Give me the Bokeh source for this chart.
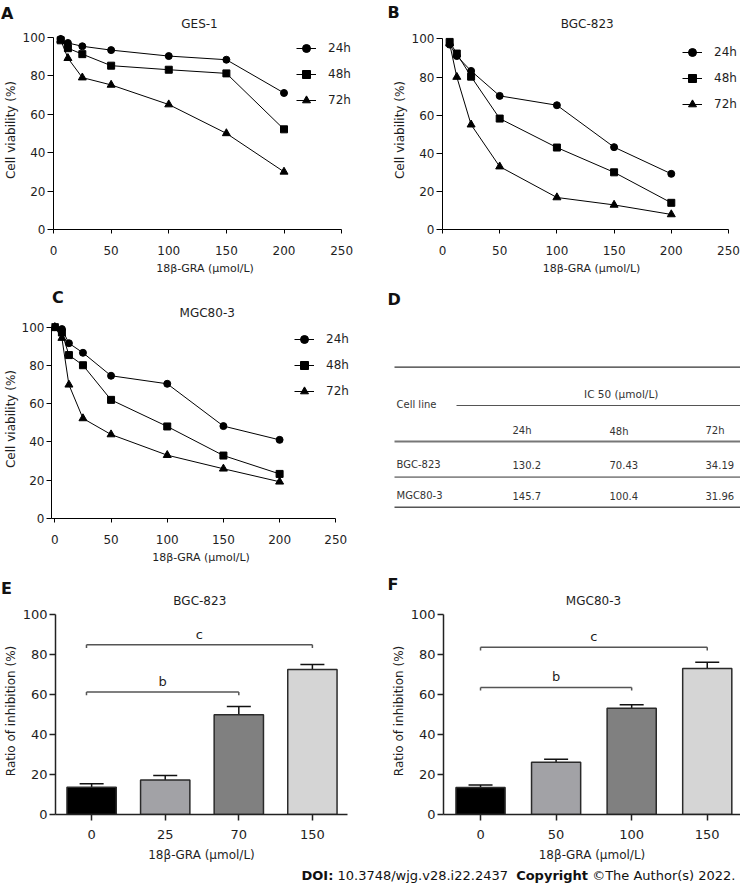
from bokeh.plotting import figure
from bokeh.layouts import column, row
from bokeh.models import (Range1d, FixedTicker, Legend, LegendItem,
                          Whisker, TeeHead, ColumnDataSource)
from bokeh.core.properties import value
from bokeh.embed import file_html
from bokeh.resources import INLINE

FONT = "DejaVu Sans"
TXT = "#1e1e1e"

# ---------------- data ----------------
doses_ab = [6.25, 12.5, 25, 50, 100, 150, 200]
doses_c = [0, 6.25, 12.5, 25, 50, 100, 150, 200]
time_labels = ["24h", "48h", "72h"]
x_ticks_line = [0, 50, 100, 150, 200, 250]
y_ticks = [0, 20, 40, 60, 80, 100]

ges1_24h = [99.1, 97.0, 95.3, 93.3, 90.2, 88.3, 71.0]
ges1_48h = [98.4, 94.3, 91.2, 85.2, 83.1, 81.2, 52.1]
ges1_72h = [98.6, 89.1, 79.0, 75.2, 65.0, 50.0, 30.0]

bgc_24h = [97.0, 91.0, 83.2, 70.1, 65.2, 43.2, 29.2]
bgc_48h = [98.4, 92.3, 80.2, 58.2, 43.0, 30.0, 14.0]
bgc_72h = [97.5, 80.0, 55.0, 33.0, 16.8, 12.9, 7.9]

mgc_24h = [100, 99.0, 91.6, 86.6, 74.6, 70.4, 48.3, 41.1]
mgc_48h = [100, 97.2, 85.4, 80.1, 62.0, 48.1, 32.9, 23.3]
mgc_72h = [100, 94.3, 69.9, 52.3, 43.9, 33.1, 26.0, 19.2]

ic50_cell_lines = ["BGC-823", "MGC80-3"]
ic50_24h = ["130.2", "145.7"]
ic50_48h = ["70.43", "100.4"]
ic50_72h = ["34.19", "31.96"]

bgc_doses = ["0", "25", "70", "150"]
bgc_inhib = [13.7, 17.3, 49.9, 72.6]
bgc_sem = [1.7, 2.2, 4.2, 2.5]
bgc_sig_labels = ["b", "c"]
bgc_sig_from = [0, 0]
bgc_sig_to = [2, 3]
bgc_sig_y = [61.3, 85.0]

mgc_doses = ["0", "50", "100", "150"]
mgc_inhib = [13.5, 26.2, 53.2, 73.1]
mgc_sem = [1.3, 1.5, 1.7, 3.1]
mgc_sig_labels = ["b", "c"]
mgc_sig_from = [0, 0]
mgc_sig_to = [2, 3]
mgc_sig_y = [63.6, 83.7]

panel_titles = ["GES-1", "BGC-823", "MGC80-3", "BGC-823", "MGC80-3"]

bar_colors = ["#000000", "#a2a2a6", "#808080", "#d5d5d5"]
markers = ["circle", "square", "triangle"]
marker_sizes = [7, 7, 8]
xlabel = "18\u03b2-GRA (\u03bcmol/L)"


def pixel_fig(w, h):
    """A figure whose frame is the whole canvas and whose data units are pixels."""
    p = figure(width=w, height=h, output_backend="svg", toolbar_location=None,
               title=None, x_range=Range1d(0, w), y_range=Range1d(h, 0),
               min_border=0, x_axis_location=None, y_axis_location=None)
    p.outline_line_color = None
    p.grid.visible = False
    return p


def put_text(p, x, y, txt, size, bold=False, align="left", color=TXT):
    p.text(x=[x], y=[y], text=[txt], text_font=value(FONT),
           text_font_size=size, text_font_style="bold" if bold else "normal",
           text_color=color, text_align=align, text_baseline="middle")


def style_axis(ax, ticks, tick_fs, tick_out, tick_standoff, label, label_fs,
               label_standoff, lw=1.0, color="black"):
    ax.ticker = FixedTicker(ticks=ticks)
    ax.minor_tick_line_color = None
    ax.major_tick_in = 0
    ax.major_tick_out = tick_out
    ax.major_label_text_font = FONT
    ax.major_label_text_font_size = tick_fs
    ax.major_label_text_color = TXT
    ax.major_label_standoff = tick_standoff
    ax.axis_label = label
    ax.axis_label_text_font = FONT
    ax.axis_label_text_font_size = label_fs
    ax.axis_label_text_font_style = "normal"
    ax.axis_label_text_color = TXT
    ax.axis_label_standoff = label_standoff
    ax.axis_line_color = color
    ax.major_tick_line_color = color
    ax.axis_line_width = lw
    ax.major_tick_line_width = lw


def line_panel(doses, series, width, height, mbl, mbr, mbb, xr, ytop,
               legend_loc, ytick_out=6, ylab_standoff=2):
    p = figure(width=width, height=height, output_backend="svg",
               toolbar_location=None, title=None,
               x_range=Range1d(*xr), y_range=Range1d(0, ytop),
               min_border_left=mbl, min_border_right=mbr,
               min_border_top=0, min_border_bottom=mbb)
    p.outline_line_color = None
    p.grid.visible = False
    style_axis(p.xaxis[0], x_ticks_line, "12px", 4, 12, xlabel, "11px", 4)
    style_axis(p.yaxis[0], y_ticks, "12px", ytick_out, 2, "Cell viability (%)",
               "12px", ylab_standoff)
    p.xaxis[0].bounds = (xr[0], 250)
    p.yaxis[0].bounds = (0, 100)
    items = []
    for lab, ys, mk, sz in zip(time_labels, series, markers, marker_sizes):
        r1 = p.line(doses, ys, line_color="black", line_width=1)
        r2 = p.scatter(doses, ys, marker=mk, size=sz, fill_color="black",
                       line_color="black")
        items.append(LegendItem(label=lab, renderers=[r1, r2]))
    leg = Legend(items=items, location=legend_loc, padding=0, margin=0,
                 spacing=6, glyph_width=20, glyph_height=20, label_height=20,
                 label_standoff=12, border_line_color=None,
                 background_fill_alpha=0, label_text_font=FONT,
                 label_text_font_size="12px", label_text_color=TXT,
                 label_text_baseline="middle")
    p.add_layout(leg)
    return p


def bar_panel(doses, means, sems, sig_labels, sig_from, sig_to, sig_y,
              bracket_shift, width, height, mbl, mbr, mbb, xr, ytop, bar_w):
    p = figure(width=width, height=height, output_backend="svg",
               toolbar_location=None, title=None,
               x_range=Range1d(*xr), y_range=Range1d(0, ytop),
               min_border_left=mbl, min_border_right=mbr,
               min_border_top=0, min_border_bottom=mbb)
    p.outline_line_color = None
    p.grid.visible = False
    idx = list(range(len(doses)))
    style_axis(p.xaxis[0], idx, "13px", 6, 9, xlabel, "12px", 6, 1.5, "#222222")
    p.xaxis[0].major_label_overrides = {i: d for i, d in zip(idx, doses)}
    style_axis(p.yaxis[0], y_ticks, "13px", 6, 2, "Ratio of inhibition (%)",
               "12px", 2, 1.5, "#222222")
    p.yaxis[0].bounds = (0, 100)
    src = ColumnDataSource(dict(x=idx, top=means,
                                upper=[m + s for m, s in zip(means, sems)],
                                color=bar_colors))
    p.vbar(x="x", top="top", width=bar_w, source=src, fill_color="color",
           line_color="#2a2a2a", line_width=1.5)
    p.add_layout(Whisker(source=src, base="x", lower="top", upper="upper",
                         dimension="height", line_color="#111111", line_width=1.5,
                         upper_head=TeeHead(size=24, line_color="#111111",
                                            line_width=1.5),
                         lower_head=None))
    # significance brackets
    x0 = [a + bracket_shift for a in sig_from]
    x1 = list(sig_to)
    drop = 1.6
    p.segment(x0=x0, y0=sig_y, x1=x1, y1=sig_y, line_color="#555555",
              line_width=1.5)
    p.segment(x0=x0 + x1, y0=sig_y + sig_y, x1=x0 + x1,
              y1=[y - drop for y in sig_y + sig_y], line_color="#555555",
              line_width=1.5)
    p.text(x=[(a + b) / 2 for a, b in zip(x0, x1)], y=[y + 5.3 for y in sig_y],
           text=sig_labels, text_font=value(FONT), text_font_size="13px",
           text_color=TXT, text_align="center", text_baseline="middle")
    return p


LETTER_FS = "16px"
TITLE_FS = "12px"
LC = "#111111"

# ---------------- row 1 (y 0..286) ----------------
h1 = pixel_fig(740, 30)
put_text(h1, 0.5, 12.5, "A", LETTER_FS, bold=True, color=LC)
put_text(h1, 199, 23, panel_titles[0], TITLE_FS, align="center")
put_text(h1, 387, 12, "B", LETTER_FS, bold=True, color=LC)
put_text(h1, 586.7, 23, panel_titles[1], TITLE_FS, align="center")

pA = line_panel(doses_ab, [ges1_24h, ges1_48h, ges1_72h], 370, 256,
                50, 14, 56, (0, 262.9), 103.5, (243, 119))
pB = line_panel(doses_ab, [bgc_24h, bgc_48h, bgc_72h], 370, 256,
                72, 0, 57, (0, 260.5), 104.4, (240, 115))
row1 = column(h1, row(pA, pB))

# ---------------- row 2 (y 286..568) ----------------
hC = pixel_fig(370, 33)
put_text(hC, 0.5, 10.5, "C", LETTER_FS, bold=True, color=LC)
put_text(hC, 192.7, 26, panel_titles[2], TITLE_FS, align="center")
pC = line_panel(doses_c, [mgc_24h, mgc_48h, mgc_72h], 370, 249,
                45, 20, 50, (-3, 263.1), 104.0, (243, 117),
                ytick_out=5, ylab_standoff=1)

# Panel D: IC50 table drawn on a pixel canvas
pD = pixel_fig(370, 282)
put_text(pD, 17, 12.5, "D", LETTER_FS, bold=True, color=LC)
rule_x0 = [24, 86, 24, 24, 24]
rule_y = [80.7, 119, 155, 190.7, 220.7]
rule_w = [1.3, 1.2, 2.2, 1.8, 1.5]
rule_c = ["#333333", "#555555", "#777777", "#8a8a8a", "#555555"]
pD.segment(x0=rule_x0, y0=rule_y, x1=[370] * 5, y1=rule_y, line_width=rule_w,
           line_color=rule_c)
TC = "#333333"
put_text(pD, 250.7, 107.3, "IC 50 (\u03bcmol/L)", "10.5px", align="center", color=TC)
put_text(pD, 26, 118.3, "Cell line", "10px", color=TC)
col_x = [142, 239, 335]
for cx, cy, lab in zip(col_x, [144, 145, 144], time_labels):
    put_text(pD, cx, cy, lab, "10px", color=TC)
row_y = [178, 209]
for ry, name in zip(row_y, ic50_cell_lines):
    put_text(pD, 26, ry, name, "10px", color=TC)
for cx, vals in zip(col_x, [ic50_24h, ic50_48h, ic50_72h]):
    for ry, v in zip(row_y, vals):
        put_text(pD, cx, ry, v, "10px", color=TC)

row2 = row(column(hC, pC), pD)

# ---------------- row 3 (y 568..864) ----------------
h3 = pixel_fig(740, 39)
put_text(h3, 0.5, 19.5, "E", LETTER_FS, bold=True, color=LC)
put_text(h3, 199.3, 32, panel_titles[3], TITLE_FS, align="center")
put_text(h3, 387, 15.5, "F", LETTER_FS, bold=True, color=LC)
put_text(h3, 593, 32, panel_titles[4], TITLE_FS, align="center")

pE = bar_panel(bgc_doses, bgc_inhib, bgc_sem, bgc_sig_labels, bgc_sig_from,
               bgc_sig_to, bgc_sig_y, -0.07, 370, 257, 50, 23, 50,
               (-0.491, 3.477), 103.65, 0.67)
pF = bar_panel(mgc_doses, mgc_inhib, mgc_sem, mgc_sig_labels, mgc_sig_from,
               mgc_sig_to, mgc_sig_y, 0.0, 370, 257, 73, 0, 49,
               (-0.49, 3.44), 103.6, 0.65)
row3 = column(h3, row(pE, pF))

# ---------------- footer (y 864..887) ----------------
pG = pixel_fig(740, 23)
fs = 13
pieces = ["DOI:", "10.3748/wjg.v28.i22.2437", "Copyright", "\u00a9The Author(s) 2022."]
bold = [True, False, True, False]
widths_em = [2.451, 13.106, 5.531, 11.026]
gaps_em = [0.318, 0.636, 0.318, 0.0]
total = sum(w + g for w, g in zip(widths_em, gaps_em)) * fs
xpos = 735 - total
for t, b, w, g in zip(pieces, bold, widths_em, gaps_em):
    put_text(pG, xpos, 11, t, f"{fs}px", bold=b, color=LC)
    xpos += (w + g) * fs

layout = column(row1, row2, row3, pG)
open("out.html", "w").write(file_html(layout, INLINE))
